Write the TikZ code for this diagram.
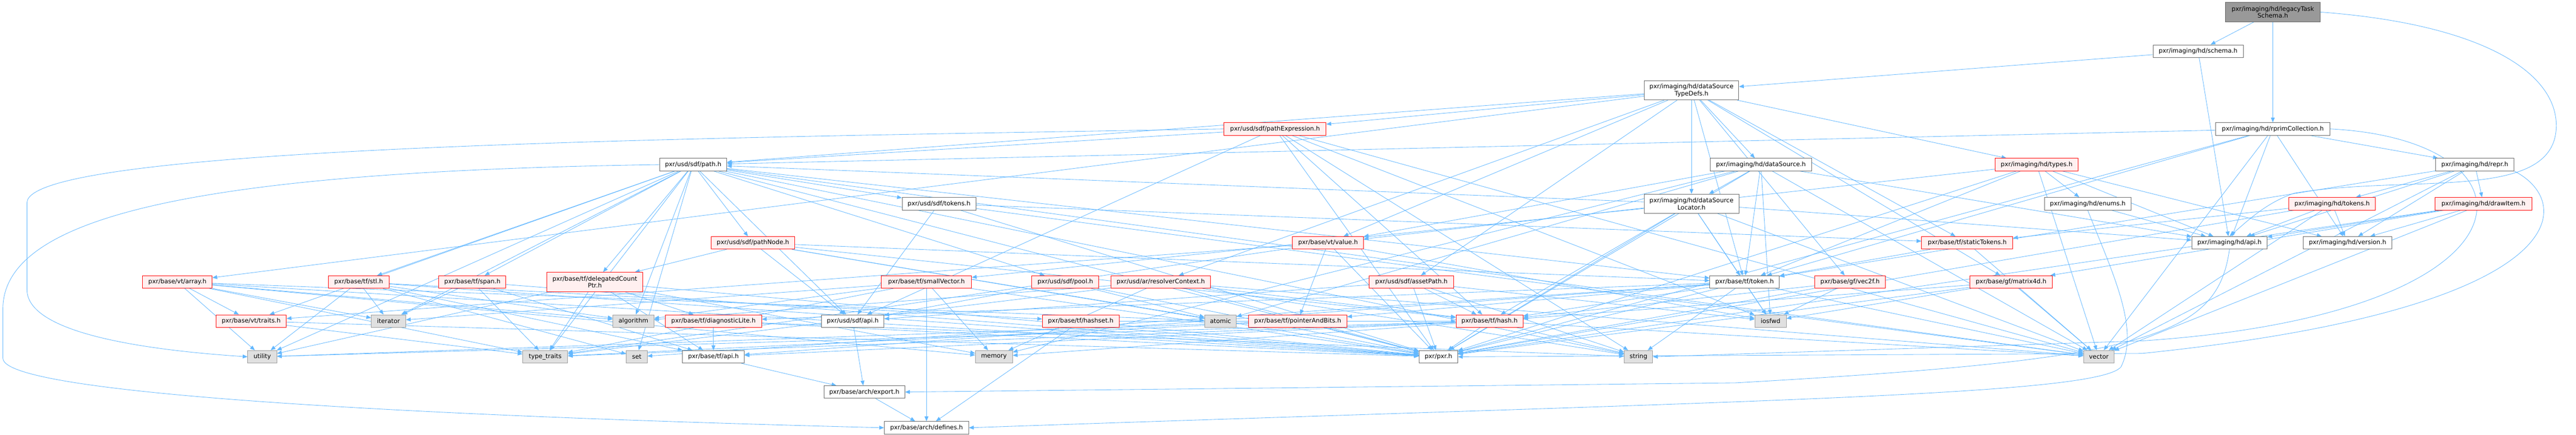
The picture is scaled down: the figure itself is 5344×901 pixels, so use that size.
\documentclass[tikz,border=0pt]{standalone}
\usepackage{fontspec}
\newfontfamily\dvfont{DejaVu Sans}
\usetikzlibrary{arrows.meta,backgrounds}
\definecolor{cBorder}{HTML}{666666}
\definecolor{cRed}{HTML}{FF0000}
\definecolor{cRedFill}{HTML}{FFF0F0}
\definecolor{cGrayB}{HTML}{999999}
\definecolor{cGrayF}{HTML}{E0E0E0}
\definecolor{cRoot}{HTML}{999999}
\definecolor{cEdge}{HTML}{63B8FF}
\newcommand{\nf}{\dvfont\fontsize{12.75}{14.5}\selectfont}
\tikzset{
  nb/.style={draw, rectangle, inner sep=0pt, minimum height=26pt, font=\nf, line width=1pt, align=center, text=black},
  wn/.style={nb, draw=cBorder, fill=white},
  rn/.style={nb, draw=cRed, fill=cRedFill},
  gn/.style={nb, draw=cGrayB, fill=cGrayF},
  rootn/.style={nb, draw=cBorder, fill=cRoot},
  tall/.style={minimum height=40pt},
  e/.style={draw=cEdge, line width=0.9pt, -{Triangle[length=10pt,width=8pt]}},
}
\begin{document}
\begin{tikzpicture}[x=1pt,y=1pt]
\useasboundingbox (0,0) rectangle (5344,-901);
% row 0-3
\node[rootn,tall,minimum width=196pt] (legacy) at (4715,-25) {pxr/imaging/hd/legacyTask\\Schema.h};
\node[wn,minimum width=187pt] (schema) at (4560,-106) {pxr/imaging/hd/schema.h};
\node[wn,tall,minimum width=196pt] (dstd) at (3509,-187) {pxr/imaging/hd/dataSource\\TypeDefs.h};
\node[rn,minimum width=212pt] (pathExpr) at (2645,-267) {pxr/usd/sdf/pathExpression.h};
\node[wn,minimum width=237pt] (rprim) at (4715,-267) {pxr/imaging/hd/rprimCollection.h};
% row 4
\node[wn,minimum width=139pt] (path) at (1438,-341) {pxr/usd/sdf/path.h};
\node[wn,minimum width=210pt] (dataSource) at (3653,-341) {pxr/imaging/hd/dataSource.h};
\node[rn,minimum width=172pt] (types) at (4225,-341) {pxr/imaging/hd/types.h};
\node[wn,minimum width=163pt] (repr) at (5134,-341) {pxr/imaging/hd/repr.h};
% row 5
\node[wn,minimum width=153pt] (sdftokens) at (1948,-422) {pxr/usd/sdf/tokens.h};
\node[wn,tall,minimum width=197pt] (dsloc) at (3509,-422) {pxr/imaging/hd/dataSource\\Locator.h};
\node[wn,minimum width=180pt] (enums) at (4331,-422) {pxr/imaging/hd/enums.h};
\node[rn,minimum width=179pt] (hdtokens) at (4838,-422) {pxr/imaging/hd/tokens.h};
\node[rn,minimum width=200pt] (drawItem) at (5152,-422) {pxr/imaging/hd/drawItem.h};
% row 6
\node[rn,minimum width=174pt] (pathNode) at (1562,-503) {pxr/usd/sdf/pathNode.h};
\node[rn,minimum width=147pt] (value) at (2755,-503) {pxr/base/vt/value.h};
\node[rn,minimum width=189pt] (staticTokens) at (4081,-503) {pxr/base/tf/staticTokens.h};
\node[wn,minimum width=156pt] (hdapi) at (4625,-503) {pxr/imaging/hd/api.h};
\node[wn,minimum width=183pt] (version) at (4870,-503) {pxr/imaging/hd/version.h};
% row 7
\node[rn,minimum width=144pt] (array) at (368,-584) {pxr/base/vt/array.h};
\node[rn,minimum width=126pt] (stl) at (744,-584) {pxr/base/tf/stl.h};
\node[rn,minimum width=139pt] (span) at (980,-584) {pxr/base/tf/span.h};
\node[rn,tall,minimum width=199pt] (dcp) at (1234,-584) {pxr/base/tf/delegatedCount\\Ptr.h};
\node[rn,minimum width=187pt] (smallVector) at (1922,-584) {pxr/base/tf/smallVector.h};
\node[rn,minimum width=139pt] (pool) at (2210,-584) {pxr/usd/sdf/pool.h};
\node[rn,minimum width=206pt] (resolver) at (2408,-584) {pxr/usd/ar/resolverContext.h};
\node[rn,minimum width=175pt] (assetPath) at (2928,-584) {pxr/usd/sdf/assetPath.h};
\node[wn,minimum width=144pt] (token) at (3619,-584) {pxr/base/tf/token.h};
\node[rn,minimum width=147pt] (vec2f) at (3838,-584) {pxr/base/gf/vec2f.h};
\node[rn,minimum width=171pt] (matrix4d) at (4172,-584) {pxr/base/gf/matrix4d.h};
% row 8
\node[rn,minimum width=146pt] (traits) at (521,-665) {pxr/base/vt/traits.h};
\node[gn,minimum width=71pt] (iterator) at (806,-665) {iterator};
\node[gn,minimum width=85pt] (algorithm) at (1314,-665) {algorithm};
\node[rn,minimum width=200pt] (diagLite) at (1480,-665) {pxr/base/tf/diagnosticLite.h};
\node[wn,minimum width=130pt] (sdfapi) at (1769,-665) {pxr/usd/sdf/api.h};
\node[rn,minimum width=159pt] (hashset) at (2242,-665) {pxr/base/tf/hashset.h};
\node[gn,minimum width=66pt] (atomic) at (2532,-665) {atomic};
\node[rn,minimum width=204pt] (pab) at (2692,-665) {pxr/base/tf/pointerAndBits.h};
\node[rn,minimum width=139pt] (hash) at (3090,-665) {pxr/base/tf/hash.h};
\node[gn,minimum width=65pt] (iosfwd) at (3673,-665) {iosfwd};
% row 9
\node[gn,minimum width=60pt] (utility) at (544,-739) {utility};
\node[gn,minimum width=93pt] (typetraits) at (1131,-739) {type\_traits};
\node[gn,minimum width=43pt] (set) at (1321,-739) {set};
\node[wn,minimum width=128pt] (tfapi) at (1480,-739) {pxr/base/tf/api.h};
\node[gn,minimum width=77pt] (memory) at (2062,-739) {memory};
\node[wn,minimum width=80pt] (pxrh) at (2984,-739) {pxr/pxr.h};
\node[gn,minimum width=59pt] (string) at (3399,-739) {string};
\node[gn,minimum width=63pt] (vector) at (4354,-739) {vector};
% row 10-11
\node[wn,minimum width=168pt] (export) at (1793,-812) {pxr/base/arch/export.h};
\node[wn,minimum width=175pt] (defines) at (1922,-886) {pxr/base/arch/defines.h};
\begin{pgfonlayer}{background}
\fill[white] (0,0) rectangle (5344,-901);
\foreach \a/\b in {legacy/schema, legacy/rprim, schema/dstd, schema/hdapi,
  dstd/pathExpr, dstd/path, dstd/array, dstd/value, dstd/dataSource, dstd/dsloc, dstd/token, dstd/vec2f, dstd/matrix4d, dstd/types, dstd/assetPath, dstd/staticTokens, dstd/resolver,
  pathExpr/path, pathExpr/sdfapi, pathExpr/pxrh, pathExpr/hash, pathExpr/iosfwd, pathExpr/string, pathExpr/vector,
  rprim/repr, rprim/hdapi, rprim/version, rprim/path, rprim/token, rprim/vector, rprim/pxrh,
  repr/hdtokens, repr/drawItem, repr/hdapi, repr/version, repr/token, repr/vector,
  drawItem/hdapi, drawItem/version, drawItem/matrix4d, drawItem/vector, drawItem/pxrh,
  hdtokens/hdapi, hdtokens/version, hdtokens/staticTokens, hdtokens/vector, hdtokens/pxrh,
  types/enums, types/version, types/hdapi, types/value, types/token, types/vector, types/pxrh,
  enums/hdapi,
  dataSource/dsloc, dataSource/hdapi, dataSource/token, dataSource/value, dataSource/iosfwd, dataSource/vector, dataSource/pxrh, dataSource/memory, dataSource/atomic,
  dsloc/hdapi, dsloc/path, dsloc/token, dsloc/smallVector, dsloc/hash, dsloc/iosfwd, dsloc/pxrh, dsloc/vector,
  path/sdfapi, path/pool, path/sdftokens, path/pathNode, path/dcp, path/span, path/stl, path/token, path/traits, path/algorithm, path/iterator, path/set, path/string, path/typetraits, path/utility, path/vector, path/pxrh,
  sdftokens/sdfapi, sdftokens/staticTokens, sdftokens/pxrh, sdftokens/vector,
  pathNode/sdfapi, pathNode/dcp, pathNode/hash, pathNode/token, pathNode/atomic, pathNode/pxrh,
  pool/sdfapi, pool/atomic, pool/pxrh,
  value/traits, value/pab, value/iosfwd, value/typetraits, value/pxrh,
  array/traits, array/iterator, array/utility, array/algorithm, array/memory, array/atomic, array/typetraits, array/pxrh,
  traits/typetraits, traits/pxrh,
  stl/tfapi, stl/hashset, stl/iterator, stl/utility, stl/algorithm, stl/set, stl/pxrh,
  span/pxrh, span/tfapi, span/iterator, span/typetraits,
  dcp/pxrh, dcp/tfapi, dcp/diagLite, dcp/memory, dcp/typetraits, dcp/utility,
  diagLite/tfapi, diagLite/pxrh, diagLite/string,
  tfapi/export, sdfapi/export, export/defines,
  smallVector/defines, smallVector/memory, smallVector/pxrh, smallVector/iterator, smallVector/algorithm, smallVector/typetraits,
  hashset/defines, hashset/hash, hashset/pxrh,
  resolver/pxrh, resolver/hash, resolver/memory, resolver/algorithm, resolver/string, resolver/typetraits, resolver/vector,
  assetPath/sdfapi, assetPath/pxrh, assetPath/hash, assetPath/iosfwd, assetPath/string,
  pab/pxrh, pab/typetraits, pab/utility,
  hash/pxrh, hash/tfapi, hash/string, hash/memory, hash/typetraits, hash/utility, hash/vector,
  token/pxrh, token/tfapi, token/diagLite, token/hash, token/pab, token/iosfwd, token/string, token/vector, token/set,
  staticTokens/token, staticTokens/vector,
  vec2f/pxrh, vec2f/hash, vec2f/iosfwd,
  matrix4d/pxrh, matrix4d/hash, matrix4d/iosfwd, matrix4d/vector}
  \draw[e] (\a) -- (\b);
% long routed connectors
\draw[e] (legacy.east) .. controls (5150,-50) and (5303,-150) .. (5303,-260) .. controls (5303,-420) and (5000,-360) .. (4760,-400) .. controls (4700,-420) and (4660,-460) .. (hdapi.north);
\draw[e] (pathExpr.west) .. controls (1500,-285) and (56,-300) .. (56,-420) -- (56,-600) .. controls (56,-690) and (300,-725) .. (utility.west);
\draw[e] (path.west) .. controls (400,-355) and (6,-450) .. (6,-640) -- (6,-742) .. controls (6,-830) and (1200,-870) .. (defines.west);
\draw[e] (hdapi.south) .. controls (4600,-700) and (4450,-745) .. (3600,-793) -- (export.east);
\draw[e] (enums.south) .. controls (4380,-560) and (4440,-680) .. (4400,-760) .. controls (4350,-820) and (3600,-831) .. (defines.east);
\draw[e] (repr.south east) .. controls (5345,-420) and (5345,-640) .. (4444,-732) -- (pxrh.east);
\draw[e] (rprim.east) .. controls (5290,-290) and (5290,-650) .. (4444,-706) -- (string.east);
\end{pgfonlayer}
\end{tikzpicture}
\end{document}
